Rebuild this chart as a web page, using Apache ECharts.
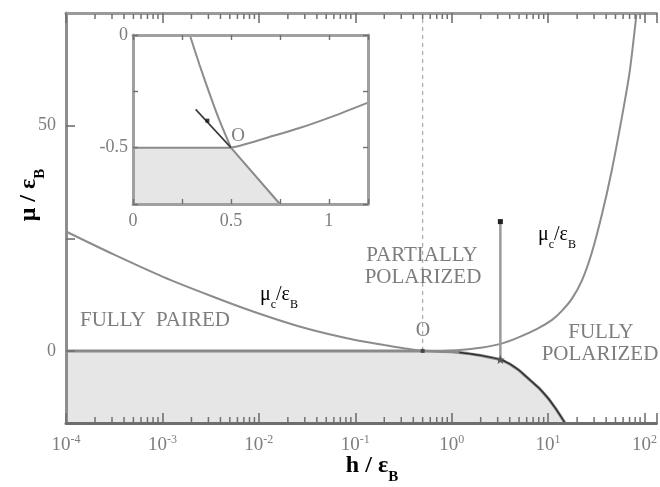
<!DOCTYPE html>
<html>
<head>
<meta charset="utf-8">
<script src="https://cdn.jsdelivr.net/npm/echarts@6/dist/echarts.min.js"></script>
<style>
  html, body { margin: 0; padding: 0; background: #fff; }
  #chart { width: 660px; height: 487px; }
</style>
</head>
<body>
<div id="chart"></div>
<script>
// Main panel: mu / eps_B against h / eps_B (log scale)
const pairedEdge = [[1e-4, 0], [0.5, 0], [1, -0.2], [1.5, -0.6], [2, -1.0], [3.2, -1.9], [4, -2.9],
  [5, -4.3], [6, -5.8], [8, -8.2], [10, -10.5], [12, -12.8], [15, -16]];
const firstOrderEdge = [[1.2, -0.35], [1.5, -0.6], [2, -1.0], [3.2, -1.9], [4, -2.9], [5, -4.3],
  [6, -5.8], [8, -8.2], [10, -10.5], [12, -12.8], [15, -16]];
const pairedCrit = [[1e-4, 26.5], [3.2e-4, 21.3], [1e-3, 16.5], [3.2e-3, 12.2], [1e-2, 8.3],
  [3.2e-2, 4.9], [0.1, 2.4], [0.2, 1.3], [0.32, 0.6], [0.5, 0]];
const polarCrit = [[0.5, 0], [0.8, 0.05], [1.2, 0.2], [2, 0.7], [3.2, 1.56], [4.8, 2.9], [7.7, 4.9],
  [11, 6.9], [13.9, 8.9], [17.7, 11.6], [22.4, 15.6], [28.4, 21.8], [36.1, 30.2], [45.7, 40],
  [58, 51.6], [70, 61.8], [82.8, 75]];
const tricritical = [0.5, 0];
const arrowPath = [[3.2, -1.9], [3.2, 28.7]];
const xDecades = [1e-4, 1e-3, 1e-2, 1e-1, 1, 10];
const xMinorTicks = [];
xDecades.forEach(d => { for (let k = 2; k <= 9; k++) xMinorTicks.push(+(d * k).toPrecision(3)); });
const yTicks = [0, 25, 50];
const yLabels = [0, 50];

// Inset: zoom around the tricritical point
const insetEdge = [[0, -0.5], [0.5, -0.5], [0.75, -0.75]];
const insetPaired = [[0.29, 0], [0.34, -0.133], [0.39, -0.258], [0.44, -0.376], [0.5, -0.5]];
const insetPolar = [[0.5, -0.5], [0.55, -0.49], [0.68, -0.457], [0.85, -0.413], [1.02, -0.361], [1.2, -0.30]];
const insetMeta = [[0.32, -0.33], [0.5, -0.5]];
const insetMetaDot = [0.38, -0.38];

const SERIF = '"Liberation Serif", "DejaVu Serif", serif';
const INK = '#7d7d7d';
const LINE = '#8c8c8c';
const TICK = '#707070';
const Y_MIN = -16, Y_MAX = 75;

const chart = echarts.init(document.getElementById('chart'), null, { renderer: 'canvas' });

function powLabel(v) {
  const e = Math.round(Math.log10(v));
  if (Math.abs(v - Math.pow(10, e)) > 1e-6 * v) return '';
  return '{b|10}{s|' + e + '}';
}

const starPath = 'path://M0,-10 L2.9,-3.1 L9.5,-3.1 L4.3,1.2 L5.9,8.1 L0,4 L-5.9,8.1 L-4.3,1.2 L-9.5,-3.1 L-2.9,-3.1 Z';

function subRich(size, weight) {
  return {
    m: { fontFamily: SERIF, fontSize: size, fontWeight: weight || 'normal', color: INK, verticalAlign: 'bottom', padding: [0, 0, Math.round(size * 0.3), 0] },
    sub: { fontFamily: SERIF, fontSize: Math.round(size * 0.62), fontWeight: weight || 'normal', color: INK, verticalAlign: 'bottom' }
  };
}

function label(text, x, y, size) {
  return { type: 'text', x, y, style: { text, fill: INK, font: (size || 21) + 'px ' + SERIF, align: 'center', verticalAlign: 'middle' }, z: 50 };
}
function richLabel(text, x, y, size, weight, rotation) {
  return { type: 'text', x, y, rotation: rotation || 0, style: { text, rich: subRich(size, weight), align: 'center', verticalAlign: 'middle' }, z: 50 };
}

// short inward minor ticks along one edge of the log axis
function minorTicks(edgeValue, dir) {
  return {
    type: 'custom', xAxisIndex: 0, yAxisIndex: 0, z: 9, silent: true,
    data: xMinorTicks.map(v => [v, edgeValue]),
    renderItem: (params, api) => {
      const p = api.coord([api.value(0), api.value(1)]);
      return {
        type: 'line',
        shape: { x1: p[0], y1: p[1] + dir, x2: p[0], y2: p[1] + dir * 6 },
        style: { stroke: TICK, lineWidth: 1.5 }
      };
    }
  };
}

const logAxisBase = { type: 'log', logBase: 10, min: 1e-4, max: Math.pow(10, 2.1237), gridIndex: 0, splitLine: { show: false }, z: 8 };
const insetLine = { show: true, onZero: false, lineStyle: { color: '#a0a0a0', width: 3 } };
const insetTick = { show: true, inside: true, length: 5, lineStyle: { color: TICK, width: 1.4 } };

const option = {
  backgroundColor: '#ffffff',
  animation: false,
  grid: [
    { left: 66, top: 13, right: 0, bottom: 64, containLabel: false },
    { left: 133, top: 35, width: 235, height: 169, show: true, backgroundColor: '#fff', borderWidth: 0, z: 10 }
  ],
  xAxis: [
    Object.assign({}, logAxisBase, {
      position: 'bottom',
      axisLine: { show: true, onZero: false, lineStyle: { color: '#6e6e6e', width: 3 } },
      axisTick: { show: true, inside: true, length: 10, lineStyle: { color: TICK, width: 1.6 } },
      axisLabel: {
        show: true, margin: 11, formatter: powLabel, showMaxLabel: true,
        rich: {
          b: { fontFamily: SERIF, fontSize: 19, color: INK, verticalAlign: 'bottom' },
          s: { fontFamily: SERIF, fontSize: 12, color: INK, verticalAlign: 'bottom', padding: [0, 0, 9, 0] }
        }
      }
    }),
    Object.assign({}, logAxisBase, {
      position: 'top',
      axisLine: { show: true, onZero: false, lineStyle: { color: '#9a9a9a', width: 3 } },
      axisTick: { show: true, inside: true, length: 10, lineStyle: { color: TICK, width: 1.6 } },
      axisLabel: { show: false }
    }),
    {
      type: 'value', gridIndex: 1, min: 0, max: 1.2, interval: 0.25, position: 'bottom', z: 16,
      splitLine: { show: false }, axisLine: insetLine, axisTick: insetTick,
      axisLabel: {
        margin: 8, color: INK, fontFamily: SERIF, fontSize: 18,
        formatter: v => (v === 0 ? '0' : v === 0.5 ? '0.5' : v === 1 ? '1' : '')
      }
    },
    {
      type: 'value', gridIndex: 1, min: 0, max: 1.2, interval: 0.25, position: 'top', z: 16,
      splitLine: { show: false }, axisLine: insetLine, axisTick: insetTick, axisLabel: { show: false }
    }
  ],
  yAxis: [
    {
      type: 'value', gridIndex: 0, min: Y_MIN, max: Y_MAX, position: 'left', z: 8,
      splitLine: { show: false },
      axisLine: { show: true, onZero: false, lineStyle: { color: '#8e8e8e', width: 3 } },
      axisTick: { show: true, inside: true, length: 9, lineStyle: { color: TICK, width: 1.6 }, customValues: yTicks },
      axisLabel: { margin: 10, color: INK, fontFamily: SERIF, fontSize: 18, customValues: yLabels }
    },
    {
      type: 'value', gridIndex: 1, min: -0.75, max: 0, interval: 0.25, position: 'left', z: 16,
      splitLine: { show: false }, axisLine: insetLine, axisTick: insetTick,
      axisLabel: {
        margin: 5, color: INK, fontFamily: SERIF, fontSize: 18,
        formatter: v => (v === 0 ? '0' : v === -0.5 ? '-0.5' : '')
      }
    },
    {
      type: 'value', gridIndex: 1, min: -0.75, max: 0, interval: 0.25, position: 'right', z: 16,
      splitLine: { show: false }, axisLine: insetLine, axisTick: insetTick, axisLabel: { show: false }
    }
  ],
  series: [
    minorTicks(Y_MIN, -1),
    minorTicks(Y_MAX, 1),
    // shaded fully-paired region
    {
      type: 'line', xAxisIndex: 0, yAxisIndex: 0, data: pairedEdge, showSymbol: false, z: 2,
      lineStyle: { color: '#8a8a8a', width: 3 },
      areaStyle: { color: '#e6e6e6', opacity: 1, origin: 'start' }
    },
    {
      type: 'line', xAxisIndex: 0, yAxisIndex: 0, data: firstOrderEdge, showSymbol: false, smooth: 0.3, z: 3,
      lineStyle: { color: '#2e2e2e', width: 1.4 }
    },
    {
      type: 'line', xAxisIndex: 0, yAxisIndex: 0, data: pairedCrit, showSymbol: false, smooth: 0.3, z: 3,
      lineStyle: { color: LINE, width: 2 }
    },
    {
      type: 'line', xAxisIndex: 0, yAxisIndex: 0, data: polarCrit, showSymbol: false, smooth: 0.25, z: 3,
      lineStyle: { color: LINE, width: 2 }
    },
    // dashed guide through the tricritical point
    {
      type: 'line', xAxisIndex: 0, yAxisIndex: 0, showSymbol: false, z: 1,
      data: [tricritical, [tricritical[0], Y_MAX]],
      lineStyle: { color: '#a8a8a8', width: 1.2, type: [4, 4] }
    },
    {
      type: 'scatter', xAxisIndex: 0, yAxisIndex: 0, data: [tricritical], z: 6,
      symbol: 'rect', symbolSize: 4, itemStyle: { color: '#333' }
    },
    // vertical arrow at fixed h
    {
      type: 'line', xAxisIndex: 0, yAxisIndex: 0, z: 4,
      data: [
        { value: arrowPath[0], symbol: starPath, symbolSize: 9, itemStyle: { color: '#555' } },
        { value: arrowPath[1], symbol: 'rect', symbolSize: 5, itemStyle: { color: '#222' } }
      ],
      showSymbol: true, showAllSymbol: true,
      lineStyle: { color: '#9a9a9a', width: 2.5 }
    },
    // inset
    {
      type: 'line', xAxisIndex: 2, yAxisIndex: 1, data: insetEdge, showSymbol: false, z: 12,
      lineStyle: { color: '#8a8a8a', width: 2 },
      areaStyle: { color: '#e6e6e6', opacity: 1, origin: 'start' }
    },
    {
      type: 'line', xAxisIndex: 2, yAxisIndex: 1, data: insetPaired, showSymbol: false, smooth: 0.3, z: 13,
      lineStyle: { color: LINE, width: 2 }
    },
    {
      type: 'line', xAxisIndex: 2, yAxisIndex: 1, data: insetPolar, showSymbol: false, smooth: 0.3, z: 13,
      lineStyle: { color: LINE, width: 2 }
    },
    {
      type: 'line', xAxisIndex: 2, yAxisIndex: 1, data: insetMeta, showSymbol: false, z: 14,
      lineStyle: { color: '#3a3a3a', width: 1.6 }
    },
    {
      type: 'scatter', xAxisIndex: 2, yAxisIndex: 1, data: [insetMetaDot], z: 15,
      symbol: 'rect', symbolSize: 4, itemStyle: { color: '#111' }
    }
  ],
  graphic: [
    label('FULLY  PAIRED', 155, 320),
    label('PARTIALLY', 422, 255),
    label('POLARIZED', 423, 277),
    label('FULLY', 601, 332),
    label('POLARIZED', 600, 354),
    label('O', 423, 331, 20),
    label('O', 238, 136, 19),
    richLabel('{m|μ}{sub|c}{m|/ε}{sub|B}', 279, 298, 20),
    richLabel('{m|μ}{sub|c}{m|/ε}{sub|B}', 557, 238, 20),
    richLabel('{m|μ / ε}{sub|B}', 32, 195, 24, 'bold', Math.PI / 2),
    richLabel('{m|h / ε}{sub|B}', 372, 469, 24, 'bold')
  ]
};

chart.setOption(option);
</script>
</body>
</html>
